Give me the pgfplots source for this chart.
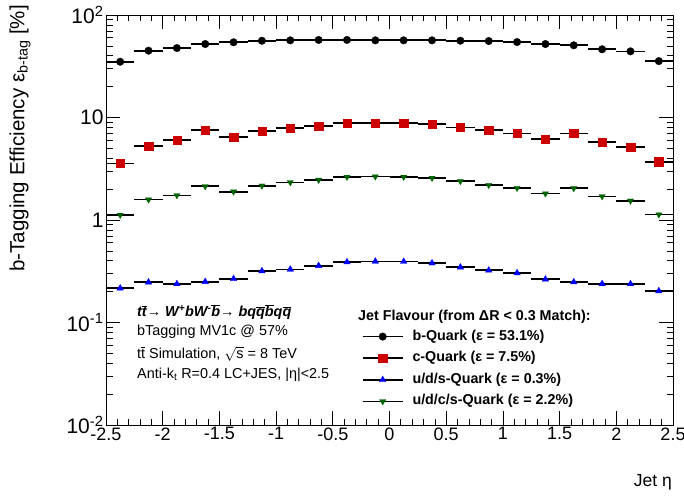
\documentclass[border=0pt]{standalone}
\usepackage{fontspec}
\setmainfont{Liberation Sans}
\usepackage{pgfplots}
\usepackage{pgfplotstable}
\pgfplotsset{compat=1.18}

\definecolor{cred}{RGB}{204,0,0}
\definecolor{lblue}{RGB}{0,0,255}
\definecolor{dgreen}{RGB}{0,100,0}

\newcommand{\ovl}[1]{\ensuremath{\overline{\mbox{#1}}}}

% b-tagging efficiency [%] per jet eta bin (bin centre, value, half width)
\pgfplotstableread{
x      y     ex
-2.375 35.0  0.125
-2.125 44.9  0.125
-1.875 47.6  0.125
-1.625 52.1  0.125
-1.375 54.2  0.125
-1.125 56.1  0.125
-0.875 56.6  0.125
-0.625 57.1  0.125
-0.375 57.1  0.125
-0.125 56.6  0.125
0.125  56.6  0.125
0.375  56.6  0.125
0.625  56.1  0.125
0.875  55.7  0.125
1.125  54.5  0.125
1.375  52.1  0.125
1.625  50.6  0.125
1.875  46.3  0.125
2.125  44.2  0.125
2.375  35.5  0.125
}\bquark

\pgfplotstableread{
x      y     ex
-2.375 3.57  0.125
-2.125 5.27  0.125
-1.875 5.99  0.125
-1.625 7.50  0.125
-1.375 6.41  0.125
-1.125 7.33  0.125
-0.875 7.85  0.125
-0.625 8.21  0.125
-0.375 8.78  0.125
-0.125 8.78  0.125
0.125  8.78  0.125
0.375  8.58  0.125
0.625  8.00  0.125
0.875  7.50  0.125
1.125  7.00  0.125
1.375  6.13  0.125
1.625  7.00  0.125
1.875  5.73  0.125
2.125  5.12  0.125
2.375  3.70  0.125
}\cquark

\pgfplotstableread{
x      y     ex
-2.375 0.216 0.125
-2.125 0.247 0.125
-1.875 0.238 0.125
-1.625 0.250 0.125
-1.375 0.267 0.125
-1.125 0.318 0.125
-0.875 0.330 0.125
-0.625 0.358 0.125
-0.375 0.389 0.125
-0.125 0.395 0.125
0.125  0.393 0.125
0.375  0.379 0.125
0.625  0.346 0.125
0.875  0.323 0.125
1.125  0.304 0.125
1.375  0.264 0.125
1.625  0.248 0.125
1.875  0.238 0.125
2.125  0.238 0.125
2.375  0.203 0.125
}\udsquark

\pgfplotstableread{
x      y     ex
-2.375 1.12  0.125
-2.125 1.58  0.125
-1.875 1.74  0.125
-1.625 2.13  0.125
-1.375 1.89  0.125
-1.125 2.16  0.125
-0.875 2.33  0.125
-0.625 2.46  0.125
-0.375 2.63  0.125
-0.125 2.65  0.125
0.125  2.63  0.125
0.375  2.57  0.125
0.625  2.39  0.125
0.875  2.19  0.125
1.125  2.05  0.125
1.375  1.81  0.125
1.625  2.04  0.125
1.875  1.70  0.125
2.125  1.54  0.125
2.375  1.13  0.125
}\udcsquark

\begin{document}
\begin{tikzpicture}
\path[use as bounding box] (-106pt,-72pt) rectangle (578pt,425pt);
\begin{axis}[
  scale only axis, width=567pt, height=410pt,
  ymode=log, xmin=-2.5, xmax=2.5, ymin=0.01, ymax=100,
  axis line style={line width=0.9pt},
  tick align=inside, xtick pos=both, ytick pos=both,
  major tick length=14pt, minor tick length=6.5pt,
  tick style={black, line width=0.7pt},
  xtick={-2.5,-2,-1.5,-1,-0.5,0,0.5,1,1.5,2,2.5},
  xticklabels={-2.5,-2,-1.5,-1,-0.5,0,0.5,1,1.5,2,2.5},
  minor x tick num=4,
  ytick={0.01,0.1,1,10,100},
  yticklabels={10\textsuperscript{-2},10\textsuperscript{-1},1,10,10\textsuperscript{2}},
  xticklabel style={font=\fontsize{18}{18}\selectfont, yshift=1pt},
  yticklabel style={font=\fontsize{21}{21}\selectfont, xshift=1pt},
  legend cell align=left,
  legend image code/.code={
    \draw[black,line width=1.6pt] (0pt,0pt) -- (40pt,0pt);
    \draw[mark repeat=2,mark phase=2] plot coordinates {(0pt,0pt)(20pt,0pt)(40pt,0pt)};
  },
  legend style={draw=none, fill=none, inner sep=0pt,
    at={(axis description cs:0.451,0.232)}, anchor=north west,
    row sep=8.6pt, column sep=9pt,
    font=\fontsize{14.3}{17}\selectfont\bfseries,
    nodes={inner sep=0pt, text height=10pt, text depth=3pt}},
  every axis plot/.append style={only marks, black},
  binbars/.style={
    error bars/x dir=both, error bars/x explicit,
    error bars/error bar style={line width=1.7pt, black},
    error bars/error mark=none},
]
\addplot[binbars, mark=*, mark size=3.8pt, mark options={fill=black, draw=black, line width=0.3pt}]
  table[x=x, y=y, x error=ex] {\bquark};
\addlegendentry{b-Quark (ε =  53.1\%)}
\addplot[binbars, mark=square*, mark size=4.2pt, mark options={fill=cred, draw=cred, line width=0.3pt}]
  table[x=x, y=y, x error=ex] {\cquark};
\addlegendentry{c-Quark (ε = 7.5\%)}
\addplot[binbars, mark=triangle*, mark size=3.8pt, mark options={fill=lblue, draw=lblue, line width=0.3pt}]
  table[x=x, y=y, x error=ex] {\udsquark};
\addlegendentry{u/d/s-Quark (ε = 0.3\%)}
\addplot[binbars, mark=triangle*, mark size=3.6pt, mark options={fill=dgreen, draw=dgreen, line width=0.3pt, rotate=180}]
  table[x=x, y=y, x error=ex] {\udcsquark};
\addlegendentry{u/d/c/s-Quark (ε = 2.2\%)}
\end{axis}

% axis titles
\node[rotate=90, anchor=east, inner sep=0pt, font=\fontsize{20.5}{20.5}\selectfont]
  at (-86pt,420pt) {b-Tagging Efficiency ε\textsubscript{b-tag} [\%]};
\node[anchor=east, inner sep=0pt, font=\fontsize{17.5}{17.5}\selectfont]
  at (566pt,-57pt) {Jet η};

% sample and selection description
\begin{scope}[every node/.style={anchor=west, inner sep=0pt, font=\fontsize{14.4}{14.4}\selectfont}]
\node at (31pt,113pt) {\bfseries\itshape t\ovl{t}→ W\textsuperscript{+}bW\textsuperscript{-}\ovl{b}→ bq\ovl{q}\ovl{b}q\ovl{q}};
\node at (31pt,93pt) {bTagging MV1c @ 57\%};
\node at (31pt,71.5pt) {t\ovl{t} Simulation, \ensuremath{\sqrt{\mbox{s}}} = 8 TeV};
\node at (31pt,50pt) {Anti-k\textsubscript{t} R=0.4 LC+JES, |η|<2.5};
\node[font=\fontsize{14.3}{14.3}\selectfont\bfseries] at (252pt,108pt) {Jet Flavour (from ΔR < 0.3 Match):};
\end{scope}
\end{tikzpicture}
\end{document}
